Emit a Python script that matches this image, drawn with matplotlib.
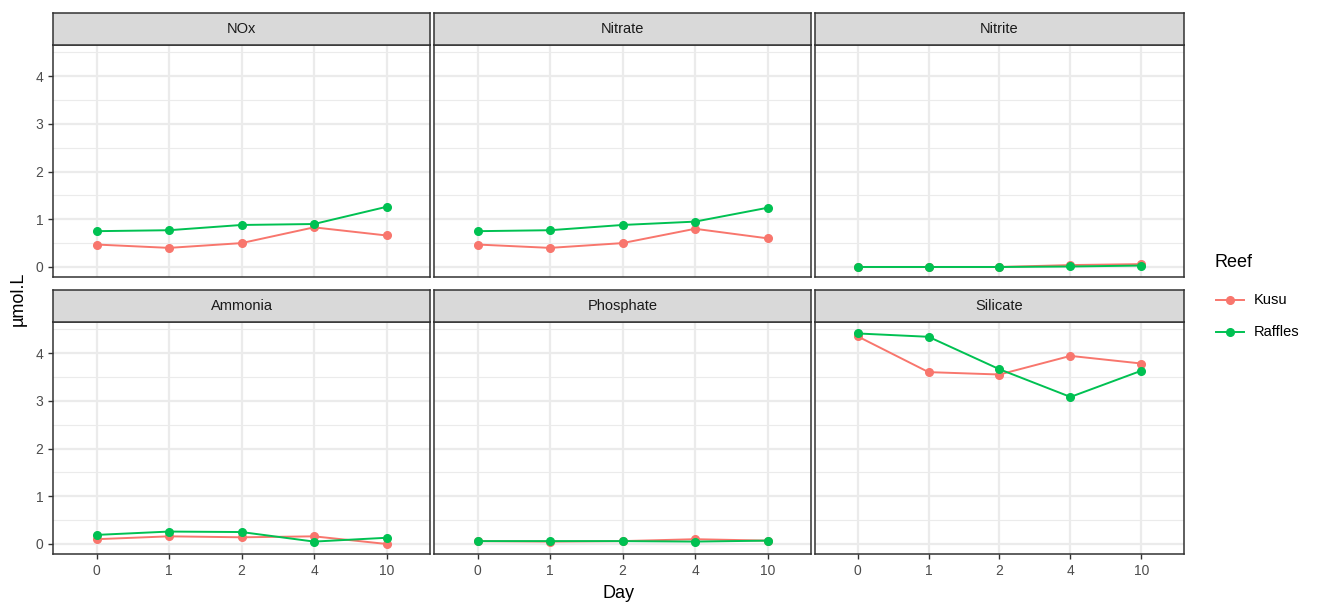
import matplotlib
matplotlib.use("Agg")
import matplotlib.pyplot as plt
from matplotlib.lines import Line2D

plt.rcParams["font.family"] = ["Liberation Sans", "DejaVu Sans"]

days = ["0", "1", "2", "4", "10"]
panels = ["NOx", "Nitrate", "Nitrite", "Ammonia", "Phosphate", "Silicate"]
reefs = ["Kusu", "Raffles"]
colors = {"Kusu": "#F8766D", "Raffles": "#00C152"}

kusu = {
    "NOx": [0.47, 0.40, 0.50, 0.83, 0.66],
    "Nitrate": [0.47, 0.40, 0.50, 0.80, 0.60],
    "Nitrite": [0.00, 0.00, 0.00, 0.04, 0.06],
    "Ammonia": [0.10, 0.16, 0.14, 0.16, 0.00],
    "Phosphate": [0.06, 0.05, 0.06, 0.10, 0.07],
    "Silicate": [4.35, 3.60, 3.55, 3.94, 3.78],
}
raffles = {
    "NOx": [0.75, 0.77, 0.88, 0.90, 1.26],
    "Nitrate": [0.75, 0.77, 0.88, 0.95, 1.24],
    "Nitrite": [0.00, 0.00, 0.00, 0.01, 0.03],
    "Ammonia": [0.19, 0.26, 0.25, 0.05, 0.13],
    "Phosphate": [0.06, 0.06, 0.06, 0.05, 0.07],
    "Silicate": [4.41, 4.34, 3.66, 3.08, 3.63],
}
yticks = [0, 1, 2, 3, 4]

W, H = 1324, 607
fig = plt.figure(figsize=(W / 100, H / 100), dpi=100)

col_x = [(53, 430), (434, 811), (815, 1184)]
row_y = [(45, 277), (322, 554)]
strip_h = 32

grid_col = "#EBEBEB"
border_col = "#333333"

for i, name in enumerate(panels):
    r, c = divmod(i, 3)
    x0, x1 = col_x[c]
    yt, yb = row_y[r]
    ax = fig.add_axes([x0 / W, 1 - yb / H, (x1 - x0) / W, (yb - yt) / H])
    ax.set_facecolor("white")
    xs = list(range(len(days)))
    for yv in [0.5, 1.5, 2.5, 3.5, 4.5]:
        ax.axhline(yv, color=grid_col, lw=0.8, zorder=0)
    for yv in yticks:
        ax.axhline(yv, color=grid_col, lw=1.6, zorder=0)
    for xv in xs:
        ax.axvline(xv, color=grid_col, lw=1.6, zorder=0)
    for reef, data in (("Kusu", kusu), ("Raffles", raffles)):
        ax.plot(xs, data[name], color=colors[reef], lw=1.4, marker="o",
                ms=5.5, zorder=3)
    ax.set_xlim(-0.6, 4.6)
    ax.set_ylim(-0.21, 4.65)
    ax.set_xticks(xs)
    ax.set_yticks(yticks)
    for s in ax.spines.values():
        s.set_color(border_col)
        s.set_linewidth(1.1)
    ax.tick_params(axis="both", colors="#333333", length=3.5, width=1.0,
                   labelsize=10, labelcolor="#4D4D4D")
    if c == 0:
        ax.set_yticklabels([str(v) for v in yticks])
    else:
        ax.tick_params(axis="y", length=0)
        ax.set_yticklabels([])
    if r == 1:
        ax.set_xticklabels(days)
    else:
        ax.tick_params(axis="x", length=0)
        ax.set_xticklabels([])
    sax = fig.add_axes([x0 / W, 1 - yt / H, (x1 - x0) / W, strip_h / H])
    sax.set_facecolor("#D9D9D9")
    sax.set_xticks([])
    sax.set_yticks([])
    for s in sax.spines.values():
        s.set_color(border_col)
        s.set_linewidth(1.1)
    sax.text(0.5, 0.5, name, ha="center", va="center", fontsize=10.5,
             color="#1A1A1A", transform=sax.transAxes)

fig.text(618 / W, 1 - 594 / H, "Day", ha="center", va="center", fontsize=13)
fig.text(18 / W, 1 - 299 / H, "µmol.L", ha="center", va="center",
         fontsize=13, rotation=90)

fig.text(1214 / W, 1 - 263 / H, "Reef", ha="left", va="center", fontsize=13)
for j, reef in enumerate(reefs):
    yy = 1 - (300 + 32 * j) / H
    fig.add_artist(Line2D([1216 / W, 1244 / W], [yy, yy], color=colors[reef],
                          lw=1.4, transform=fig.transFigure))
    fig.add_artist(Line2D([1230 / W], [yy], color=colors[reef], marker="o",
                          ms=5.5, lw=0, transform=fig.transFigure))
    fig.text(1254 / W, yy, reef, ha="left", va="center", fontsize=10.5)

fig.savefig("out.png", dpi=100)
